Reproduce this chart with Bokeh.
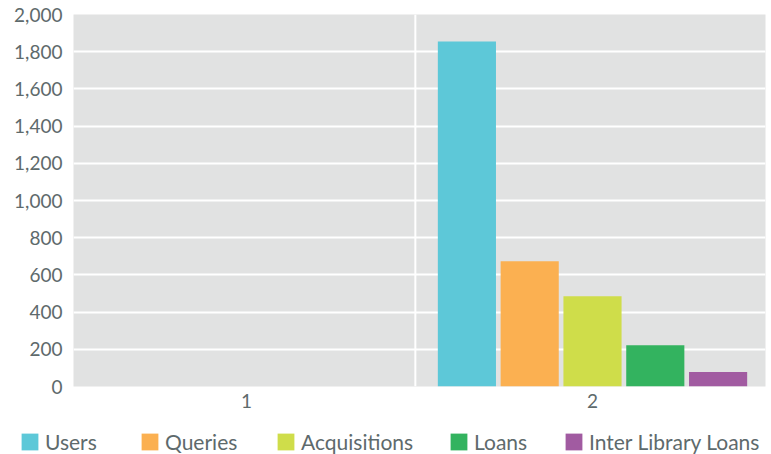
from bokeh.plotting import figure
from bokeh.layouts import column, row
from bokeh.models import (FactorRange, Range1d, FixedTicker, NumeralTickFormatter,
                          Legend, LegendItem, Span, ColumnDataSource)
from bokeh.transform import dodge
from bokeh.embed import file_html
from bokeh.resources import INLINE

# ---- data ----
categories = ["1", "2"]
series_names = ["Users", "Queries", "Acquisitions", "Loans", "Inter Library Loans"]
users = [0, 1855]
queries = [0, 673]
acquisitions = [0, 485]
loans = [0, 222]
inter_library_loans = [0, 78]
y_ticks = [0, 200, 400, 600, 800, 1000, 1200, 1400, 1600, 1800, 2000]

colors = ["#5DC8D8", "#FBB051", "#CFDD4A", "#33B35F", "#A15BA1"]
text_color = "#5E6A6C"
font = "Lato"

series_values = [users, queries, acquisitions, loans, inter_library_loans]
keys = ["users", "queries", "acquisitions", "loans", "ill"]
data = {"cat": categories}
for k, v in zip(keys, series_values):
    data[k] = v
source = ColumnDataSource(data)

p = figure(x_range=FactorRange(*categories), y_range=Range1d(0, 2000),
           width=771, height=420, output_backend="svg", toolbar_location=None,
           min_border_left=73, min_border_right=6, min_border_top=14, min_border_bottom=34)

p.background_fill_color = "#E1E2E2"
p.border_fill_color = "white"
p.outline_line_color = None

step = 0.1815
bar_w = 0.168
renderers = []
for i, (k, c) in enumerate(zip(keys, colors)):
    off = (i - 2) * step
    r = p.vbar(x=dodge("cat", off, range=p.x_range), top=k, width=bar_w,
               source=source, fill_color=c, line_color=None)
    renderers.append(r)

# grid
p.xgrid.grid_line_color = None
p.ygrid.grid_line_color = "white"
p.ygrid.grid_line_width = 2
p.ygrid.ticker = FixedTicker(ticks=y_ticks)
sep = Span(location=0.988, dimension="height", line_color="white", line_width=2)
p.add_layout(sep)

# axes
p.yaxis.ticker = FixedTicker(ticks=y_ticks)
p.yaxis.formatter = NumeralTickFormatter(format="0,0")
for ax in (p.xaxis[0], p.yaxis[0]):
    ax.axis_line_color = None
    ax.major_tick_line_color = None
    ax.minor_tick_line_color = None
    ax.major_tick_out = 0
    ax.major_tick_in = 0
    ax.major_label_text_font = font
    ax.major_label_text_font_size = "19px"
    ax.major_label_text_color = text_color
p.yaxis.major_label_standoff = 11
p.xaxis.major_label_standoff = 7
p.xaxis.group_text_font_size = "0px"

# ---- legend strip (separate figure so nothing is clipped) ----
lg = figure(width=771, height=34, output_backend="svg", toolbar_location=None,
            x_range=Range1d(0, 1), y_range=Range1d(0, 1),
            min_border_left=0, min_border_right=0, min_border_top=0, min_border_bottom=0)
lg.axis.visible = False
lg.grid.visible = False
lg.outline_line_color = None
lg.background_fill_color = "white"
lg.border_fill_color = "white"

nan = float("nan")
legend_x = [19, 139, 275, 448, 563]
for name, c, lx in zip(series_names, colors, legend_x):
    # legend key only: a NaN quad is never drawn, but carries the fill colour
    r = lg.quad(left=[nan], right=[nan], bottom=[nan], top=[nan], fill_color=c, line_color=None)
    leg = Legend(items=[LegendItem(label=name, renderers=[r])],
                 location=(lx, 0), glyph_width=21, glyph_height=21, label_standoff=5,
                 padding=0, margin=0, border_line_color=None, background_fill_alpha=0,
                 label_text_font=font, label_text_font_size="21px", label_text_color=text_color)
    lg.add_layout(leg)

layout = column(p, row(lg, spacing=0), spacing=0)
open("out.html", "w").write(file_html(layout, INLINE))
